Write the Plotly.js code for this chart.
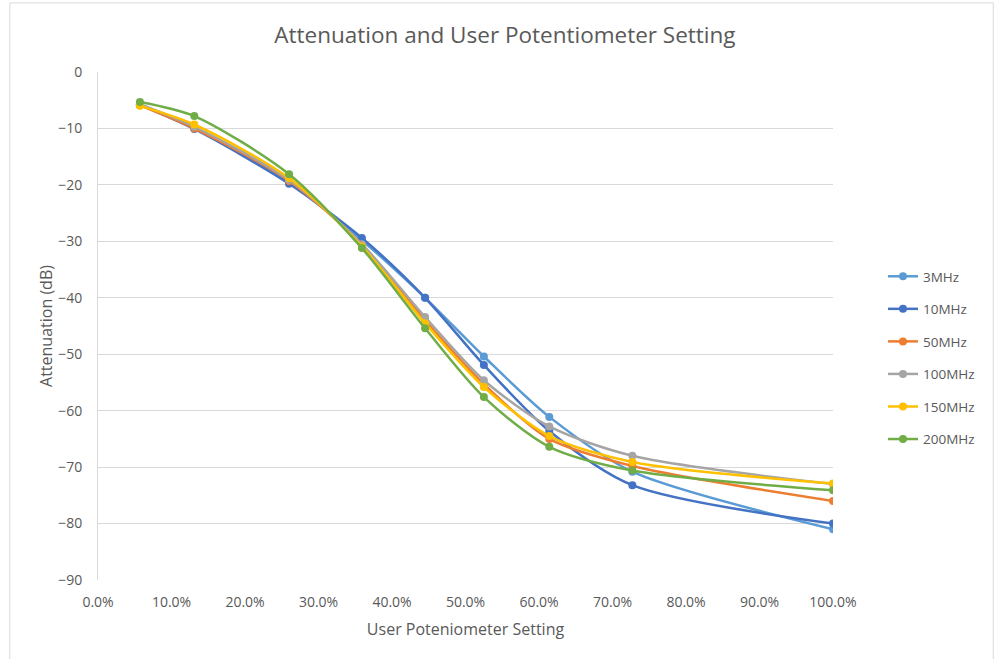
<!DOCTYPE html>
<html>
<head>
<meta charset="utf-8">
<script src="https://cdn.plot.ly/plotly-3.0.1.min.js"></script>
<style>html,body{margin:0;padding:0;background:#fff}#chart{width:994px;height:659px}</style>
</head>
<body>
<div id="chart"></div>
<script>
const settings = [0.057, 0.131, 0.260, 0.359, 0.445, 0.525, 0.614, 0.727, 1.0];
const seriesNames = ["3MHz", "10MHz", "50MHz", "100MHz", "150MHz", "200MHz"];
const att3MHz   = [-5.8, -9.8, -19.6, -29.8, -40.0, -50.4, -61.1, -70.8, -81.0];
const att10MHz  = [-5.8, -10.1, -19.8, -29.4, -40.0, -51.9, -63.6, -73.2, -80.0];
const att50MHz  = [-5.9, -10.0, -19.3, -30.6, -44.0, -55.3, -65.0, -69.8, -76.0];
const att100MHz = [-5.7, -9.7, -19.1, -30.5, -43.4, -54.6, -62.8, -68.0, -73.0];
const att150MHz = [-6.0, -9.3, -18.8, -30.9, -44.5, -55.8, -64.5, -69.1, -72.9];
const att200MHz = [-5.3, -7.8, -18.1, -31.2, -45.4, -57.6, -66.4, -70.6, -74.1];
const colors = ["#5B9BD5", "#4472C4", "#ED7D31", "#A5A5A5", "#FFC000", "#70AD47"];
const allSeries = [att3MHz, att10MHz, att50MHz, att100MHz, att150MHz, att200MHz];
const xTicks = [0,0.1,0.2,0.3,0.4,0.5,0.6,0.7,0.8,0.9,1.0];
const yTicks = [0,-10,-20,-30,-40,-50,-60,-70,-80,-90];

const font = "Open Sans, Lato, sans-serif";
const traces = allSeries.map((ys, i) => ({
  x: settings, y: ys, name: seriesNames[i], type: "scatter", mode: "lines+markers",
  legendgroup: "g" + i,
  line: {color: colors[i], width: 2.5, shape: "spline", smoothing: 0.8},
  marker: {color: colors[i], size: 8}
}));

const layout = {
  width: 994, height: 659,
  margin: {l: 98, r: 161, t: 72, b: 79},
  paper_bgcolor: "#fff", plot_bgcolor: "#fff",
  font: {family: font, color: "#595959", size: 13},
  title: {text: "Attenuation and User Potentiometer Setting", x: 0.508, xref: "container", xanchor: "center", y: 0.947, yanchor: "middle",
          font: {family: font, size: 22.5, color: "#595959"}},
  xaxis: {range: [0, 1], tickvals: xTicks, tickformat: ".1%", showgrid: false, zeroline: false,
          showline: false, ticks: "outside", ticklen: 9, tickcolor: "rgba(0,0,0,0)", fixedrange: true,
          tickfont: {size: 14},
          title: {text: "User Poteniometer Setting", font: {size: 16, color: "#595959"}, standoff: 14}},
  yaxis: {range: [-90, 0], tickvals: yTicks, showgrid: true, gridcolor: "#D9D9D9", gridwidth: 1,
          zeroline: false, showline: true, linecolor: "#D9D9D9", ticks: "outside", ticklen: 12, tickcolor: "rgba(0,0,0,0)",
          tickfont: {size: 14},
          title: {text: "Attenuation (dB)", font: {size: 16, color: "#595959"}, standoff: 1}},
  legend: {x: 1.068, xanchor: "left", y: 0.437, yanchor: "middle", tracegroupgap: 12,
           font: {size: 13.5, color: "#595959"}, bgcolor: "rgba(0,0,0,0)"},
  shapes: [{type: "rect", xref: "paper", yref: "paper", x0: -0.12, x1: 1.218, y0: -0.16, y1: 1.136,
            line: {color: "#D9D9D9", width: 1}, fillcolor: "rgba(0,0,0,0)", layer: "below"}]
};
Plotly.newPlot("chart", traces, layout, {displayModeBar: false, staticPlot: true});
</script>
</body>
</html>
